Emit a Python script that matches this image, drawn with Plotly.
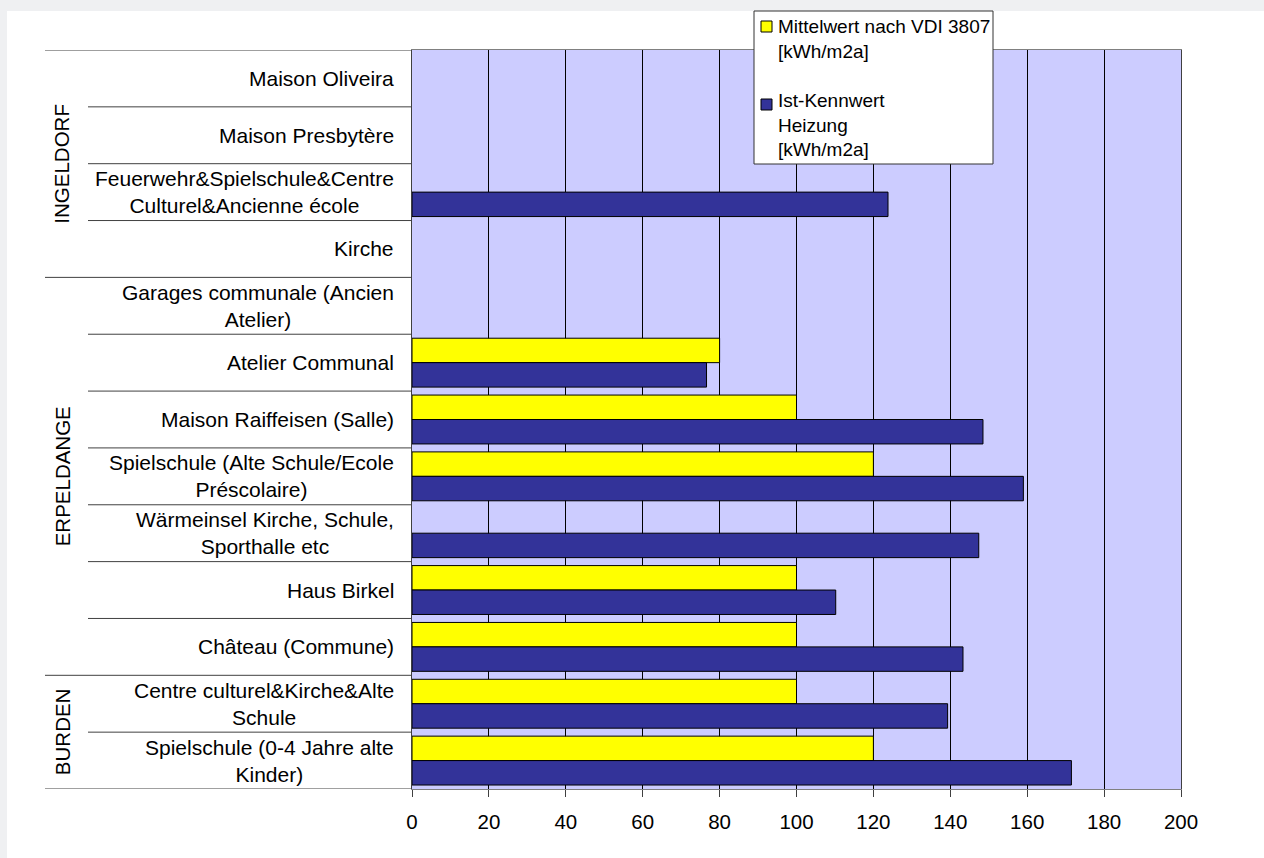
import plotly.graph_objects as go

# ---------------- data ----------------
categories = [
    "Maison Oliveira",
    "Maison Presbytère",
    "Feuerwehr&Spielschule&Centre<br>Culturel&Ancienne école",
    "Kirche",
    "Garages communale (Ancien<br>Atelier)",
    "Atelier Communal",
    "Maison Raiffeisen (Salle)",
    "Spielschule (Alte Schule/Ecole<br>Préscolaire)",
    "Wärmeinsel Kirche, Schule,<br>Sporthalle etc",
    "Haus Birkel",
    "Château (Commune)",
    "Centre culturel&Kirche&Alte<br>Schule",
    "Spielschule (0-4 Jahre alte<br>Kinder)",
]
groups = ["INGELDORF", "ERPELDANGE", "BURDEN"]
group_sizes = [4, 7, 2]

mittelwert = [None, None, None, None, None, 80, 100, 120, None, 100, 100, 100, 120]
ist_kennwert = [None, None, 123.8, None, None, 76.6, 148.5, 159.0, 147.4, 110.2, 143.3, 139.3, 171.5]

series_names = ["Mittelwert nach VDI 3807<br>[kWh/m2a]", "Ist-Kennwert<br>Heizung<br>[kWh/m2a]"]
series_colors = ["#ffff00", "#333399"]
x_ticks = [0, 20, 40, 60, 80, 100, 120, 140, 160, 180, 200]

# ---------------- layout constants ----------------
W, H = 1264, 858
ML, MR, MT, MB = 412, 83, 50, 69
PW, PH = W - ML - MR, H - MT - MB
FONT = "Liberation Sans, Arial, sans-serif"


def px_x(px):
    return (px - ML) / PW


def px_y(py):
    return (H - MB - py) / PH


fig = go.Figure()
for vals, name, col in zip([mittelwert, ist_kennwert], series_names, series_colors):
    fig.add_trace(go.Bar(
        y=categories, x=vals, orientation="h", name=name,
        marker=dict(color=col, line=dict(color="#000000", width=1)),
        showlegend=False,
    ))

shapes = []
# outer grey page strips
shapes.append(dict(type="rect", xref="paper", yref="paper", x0=px_x(0), x1=px_x(W),
                   y0=px_y(0), y1=px_y(11), fillcolor="#eff0f2", line=dict(width=0), layer="below"))
shapes.append(dict(type="rect", xref="paper", yref="paper", x0=px_x(0), x1=px_x(7),
                   y0=px_y(0), y1=px_y(H), fillcolor="#eff0f2", line=dict(width=0), layer="below"))

# separator lines in label area
n = len(categories)
group_bounds = set()
acc = 0
group_centers = []
for s in group_sizes:
    group_bounds.add(acc - 0.5)
    group_centers.append(acc + (s - 1) / 2)
    acc += s
group_bounds.add(acc - 0.5)

for i in range(n + 1):
    b = i - 0.5
    x0 = px_x(45) if b in group_bounds else px_x(88)
    shapes.append(dict(type="line", xref="paper", yref="y", x0=x0, x1=0, y0=b, y1=b,
                       line=dict(color="#404040", width=1)))

annotations = []
for cat in categories:
    annotations.append(dict(xref="paper", yref="y", x=0, y=cat, text=cat, showarrow=False,
                            xanchor="right", xshift=-16, align="center",
                            font=dict(family=FONT, size=21, color="#000000")))
for g, c in zip(groups, group_centers):
    annotations.append(dict(xref="paper", yref="y", x=px_x(62), y=c, text=g, showarrow=False,
                            textangle=-90, xanchor="center", yanchor="middle",
                            font=dict(family=FONT, size=20.5, color="#000000")))

# custom legend box
shapes.append(dict(type="rect", xref="paper", yref="paper", x0=px_x(754), x1=px_x(993),
                   y0=px_y(164), y1=px_y(11), fillcolor="#ffffff",
                   line=dict(color="#333333", width=1), layer="above"))
legend_sym_top = [21, 99]
legend_text_mid = [38.5, 125.5]
for name, col, st, tm in zip(series_names, series_colors, legend_sym_top, legend_text_mid):
    shapes.append(dict(type="rect", xref="paper", yref="paper", x0=px_x(761), x1=px_x(772),
                       y0=px_y(st + 11), y1=px_y(st), fillcolor=col,
                       line=dict(color="#000000", width=1), layer="above"))
    annotations.append(dict(xref="paper", yref="paper", x=px_x(776), y=px_y(tm), text=name,
                            showarrow=False, xanchor="left", yanchor="middle", align="left",
                            font=dict(family=FONT, size=19, color="#000000")))

fig.update_layout(
    width=W, height=H,
    margin=dict(l=ML, r=MR, t=MT, b=MB, pad=0),
    paper_bgcolor="#ffffff",
    plot_bgcolor="#ccccff",
    barmode="group",
    bargap=0.14,
    bargroupgap=0,
    font=dict(family=FONT, color="#000000"),
    shapes=shapes,
    annotations=annotations,
    showlegend=False,
    xaxis=dict(
        range=[0, 200], tickvals=x_ticks, ticktext=[str(v) for v in x_ticks],
        showgrid=True, gridcolor="#000000", gridwidth=1,
        showline=True, linecolor="#808080", linewidth=1, mirror=True,
        ticks="outside", ticklen=7, tickcolor="#404040",
        tickfont=dict(family=FONT, size=20.5, color="#000000"),
        ticklabelstandoff=7, zeroline=False, fixedrange=True,
    ),
    yaxis=dict(
        type="category", categoryorder="array", categoryarray=categories,
        range=[n - 0.5, -0.5], showticklabels=False, showgrid=False,
        showline=True, linecolor="#404040", linewidth=1, mirror=True,
        ticks="", zeroline=False, fixedrange=True,
    ),
)

fig.write_html("out.html")
